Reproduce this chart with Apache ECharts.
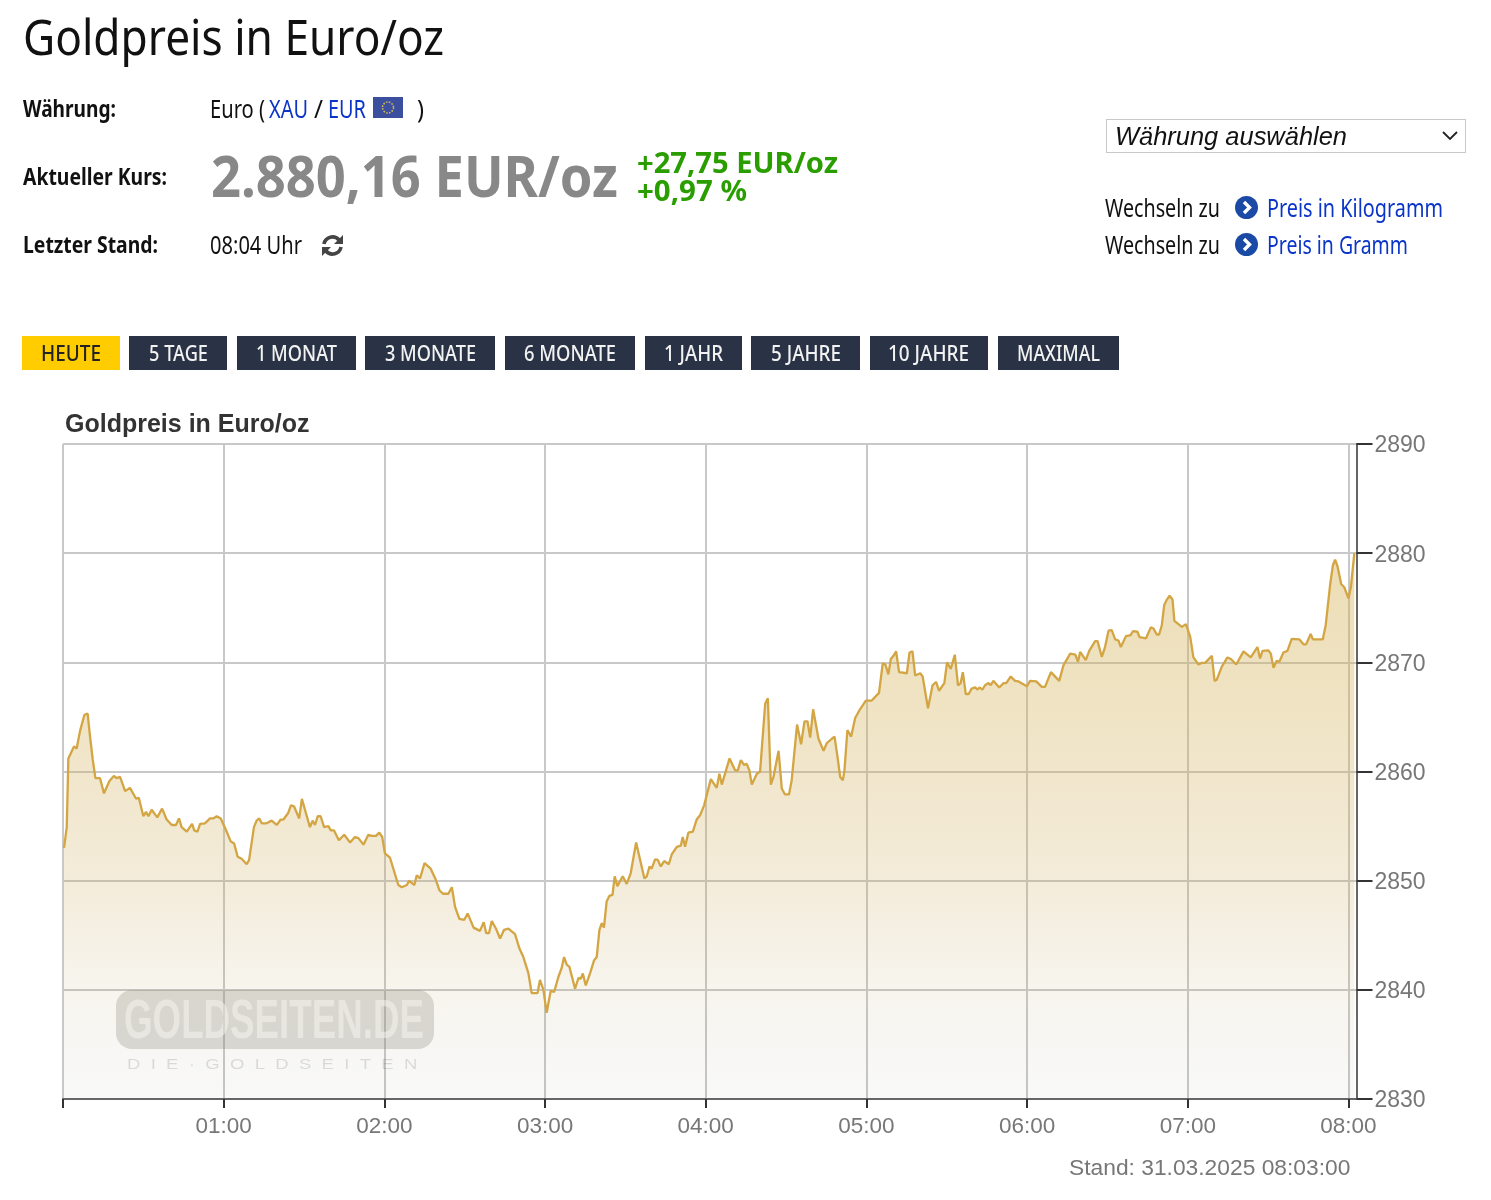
<!DOCTYPE html>
<html lang="de"><head><meta charset="utf-8"><title>Goldpreis in Euro/oz</title>
<script src="https://cdn.jsdelivr.net/npm/echarts@6/dist/echarts.min.js"></script>
<style>
html,body{margin:0;padding:0;background:#fff}
#page{position:relative;width:1491px;height:1200px;overflow:hidden}
#chart{position:absolute;left:0;top:0;width:1491px;height:1200px}
.t{position:absolute;white-space:nowrap;transform-origin:left center;font-family:"Noto Sans",sans-serif;line-height:1;color:#111;z-index:2}
.b{font-weight:700}.blue{color:#0a35c8}
.box{position:absolute;z-index:1}
svg{position:absolute;z-index:2}
</style></head><body><div id="page"><div id="chart"></div>
<div class="box" style="left:1106px;top:119px;width:358px;height:32px;border:1.5px solid #c8c8c8"></div>
<svg style="left:1441px;top:130px" width="18" height="12" viewBox="0 0 18 12"><path d="M2 2 L9 9 L16 2" fill="none" stroke="#222" stroke-width="1.8"/></svg>
<svg style="left:373px;top:97px" width="30" height="21" viewBox="0 0 30 21"><rect width="30" height="21" fill="#3b4f9e"/><circle cx="15" cy="10.5" r="5.5" fill="none" stroke="#c9b75a" stroke-width="1.6" stroke-dasharray="1.6 1.3"/></svg>
<svg style="left:320px;top:233px" width="25" height="25" viewBox="0 0 25 25"><path d="M4 11 A8.6 8.6 0 0 1 19 7" fill="none" stroke="#444" stroke-width="3.6"/><path d="M23 2 V11 H14 Z" fill="#444"/><path d="M21 14 A8.6 8.6 0 0 1 6 18" fill="none" stroke="#444" stroke-width="3.6"/><path d="M2 23 V14 H11 Z" fill="#444"/></svg>
<svg style="left:1235px;top:196px" width="23" height="23" viewBox="0 0 23 23"><circle cx="11.5" cy="11.5" r="11.5" fill="#1a4aa6"/><path d="M9 6 L14.5 11.5 L9 17" fill="none" stroke="#fff" stroke-width="3.4"/></svg>
<svg style="left:1235px;top:233px" width="23" height="23" viewBox="0 0 23 23"><circle cx="11.5" cy="11.5" r="11.5" fill="#1a4aa6"/><path d="M9 6 L14.5 11.5 L9 17" fill="none" stroke="#fff" stroke-width="3.4"/></svg>
</div>
<script>
const minutes=[0.4,1.4,2,2.6,4.1,5.1,6.35,7,8,9.2,10.1,11.1,12.1,13.8,15.3,17.3,19,20,21.3,23.2,25,27.3,28.3,30,31,31.9,33.1,35.2,37,38.7,40.6,42.2,43.3,44.3,46.2,48.2,49,50.2,51.2,53,54.9,56.1,57.4,58.9,61.1,62.6,63.9,65.2,66.7,68.6,69.5,71.3,72.3,73.3,74.2,76,77.9,79.8,81.3,82.3,84.1,85.1,86.3,88.2,89.2,90.7,92.2,93.2,94.1,95.1,96.2,97.5,99.1,100,101.2,103,105,107.2,109,110.3,112.2,114,115.3,116.9,118.1,119.2,120.2,122.1,125.2,126.5,128.4,129.2,131.2,132.1,133.3,135,137.3,139,140.6,142,143.9,145.2,146.4,148,149.8,151.1,153.3,155.7,157.1,158,159.1,160.1,161.7,163.2,164.7,166.3,168.8,170.4,171.9,173.8,175,177.2,178.1,179.4,180.6,181.3,182.1,183.4,185,186.2,187.1,188.1,189.1,191.2,192.5,193.3,194.1,195.2,196.8,198.3,199.3,200.3,201.2,202,203,204,205.2,206,207,209,210.5,212,214,217.1,218,219,219.8,221.1,222.1,223.2,224.5,226.2,227.3,228,229.2,230.7,231.4,232.3,233.5,235.2,236.6,237.9,239.4,240.1,241.9,244.1,245.1,246,248.9,251,252,253.1,254.3,255.3,256.3,257.2,259.1,260.3,261,262.2,263.2,264.3,265.3,267.2,268.4,269.6,271.1,272.1,274.1,275.6,276.9,278,279,280.1,282.1,284,285.2,287.1,288.1,289.2,290.2,291.2,291.8,292.9,294.3,295.8,297.6,299.8,302,304.7,306.1,307.1,308.2,309.1,310.1,311.1,312.2,315.1,316.1,317.2,318.2,320.1,321,323,324.7,326,327.1,329.1,330.1,331.5,333,334.2,335.2,336,337.1,338.2,339.3,340.6,341.5,342.2,343.3,344.3,345.6,346.4,347.4,349.6,351.2,352.2,353.9,355.5,356.8,357.4,359.9,361.1,363.4,365.5,366.7,368.9,372,373.6,376.1,378,379,379.8,381.9,383.2,385.4,386.3,387.9,389.1,390.4,391.6,392.9,394.1,395,396.9,397.5,398.7,399.5,401.2,402,404.4,406.2,407.2,408.4,409.3,410.3,411.2,412.2,413.2,414.3,415,417.8,419.3,420.9,422.1,424,425.2,426.5,429,430,430.8,432.7,434.8,436.1,438.1,440.8,443.5,446,447,447.9,450.1,451,452,453.2,454.2,455.7,457.2,458.8,461.7,463.2,464.2,465.9,466.7,470.4,471.5,473.2,474.2,475,475.9,477.3,478.4,480,480.9,482.2];
const prices=[2853,2854.9,2861.2,2861.3,2862.3,2862.1,2863.7,2863.6,2865.2,2865.3,2863.2,2861.1,2859.4,2859.4,2858,2859.1,2859.6,2859.4,2859.5,2858.2,2858.5,2857.5,2857.6,2855.9,2856.3,2855.9,2856.5,2855.8,2856.6,2855.6,2855.1,2855.1,2855.7,2854.9,2854.5,2855.2,2854.6,2854.5,2855.2,2855.25,2855.7,2855.7,2855.9,2855.7,2854.5,2853.6,2853.4,2852.2,2852,2851.5,2851.9,2854.9,2855.5,2855.7,2855.25,2855.25,2855.5,2855.1,2855.6,2855.6,2856.2,2856.9,2856.8,2855.7,2857.5,2856.2,2854.9,2855.5,2855.1,2855.9,2855.9,2854.9,2855,2854.6,2854.6,2853.7,2854.2,2853.5,2854,2853.9,2853.3,2854.2,2854.1,2854.1,2854.4,2854,2852.5,2852.1,2849.6,2849.4,2849.6,2850,2849.6,2850.5,2850.2,2851.6,2851.1,2850.2,2849.1,2848.8,2848.8,2849.4,2847.6,2846.5,2846.4,2847,2845.7,2845.4,2846.2,2845.2,2845.2,2846.3,2845.6,2844.7,2845.5,2845.6,2845.1,2843.8,2843,2841.5,2839.7,2839.7,2840.9,2840,2837.9,2837.9,2839.9,2839.8,2841.2,2842,2843,2842.3,2842.1,2840.1,2841.1,2841,2841.5,2840.4,2841.5,2842.7,2843,2845.5,2846.1,2845.7,2848.1,2848.6,2848.7,2850.4,2849.5,2850.4,2849.7,2850.7,2853.5,2850.2,2850.4,2851.3,2851.1,2851.95,2851.9,2851.3,2851.8,2851.5,2852.4,2852.3,2853.1,2853.2,2854,2853.1,2854.4,2854.5,2855.6,2856,2856.9,2857,2859.3,2858.5,2859.8,2858.8,2861.2,2860.1,2860.1,2861.05,2860.6,2860.7,2860.1,2858.8,2859.8,2860,2862.3,2866.2,2866.7,2858.8,2859.5,2861.9,2858.45,2857.9,2857.9,2859.2,2864.3,2862.5,2864.6,2864.6,2863.1,2865.7,2863,2861.9,2862.6,2863,2863.2,2861.35,2859.5,2859.2,2860.1,2863.8,2863.2,2864.9,2865.7,2866.5,2866.5,2867.2,2869.9,2869.8,2868.9,2870.3,2870.6,2871,2869.1,2869,2870.9,2871,2868.8,2869,2868.7,2865.8,2867.9,2868.2,2867.4,2868.1,2870,2869.4,2870.7,2867.9,2868.1,2869.1,2867.1,2867.1,2867.6,2867.7,2867.5,2867.7,2867.5,2867.9,2868.1,2867.9,2868.3,2867.7,2868.1,2868.1,2868.7,2868.3,2868.25,2868.2,2867.8,2868.3,2868.25,2867.75,2867.75,2869.1,2868.3,2869.75,2870.8,2870.7,2870.05,2870.95,2870.2,2871.05,2871.95,2871.95,2870.5,2871.4,2872.9,2872.95,2872.1,2872,2871.4,2872.4,2872.55,2872.5,2872.85,2872.8,2872.3,2872.2,2873.2,2873.1,2872.55,2872.55,2873.4,2875.25,2875.75,2876.1,2875.75,2873.8,2873.25,2873.5,2872.35,2870.45,2869.8,2869.95,2869.95,2870.6,2868.3,2868.4,2869.6,2870.45,2870.3,2869.8,2871,2870.45,2871.4,2870.35,2871.05,2871.1,2870.8,2869.5,2870.15,2870.05,2870.9,2871.05,2872.15,2872.1,2871.65,2871.65,2872.6,2872.1,2872.1,2873.4,2877.2,2878.9,2879.4,2878.8,2877.15,2876.9,2875.85,2876.9,2880];
const hourTicks=[0,60,120,180,240,300,360,420,480];
const buttonLabels=["HEUTE","5 TAGE","1 MONAT","3 MONATE","6 MONATE","1 JAHR","5 JAHRE","10 JAHRE","MAXIMAL"];

const page=document.getElementById('page');
function txt(s,x,w,cy,size,cls,style){
  const e=document.createElement('div');e.className='t '+(cls||'');e.textContent=s;
  e.style.cssText=`left:${x}px;top:${cy}px;font-size:${size}px;${style||''}`;
  page.appendChild(e);
  const s0=e.getBoundingClientRect().width;
  e.style.transform=`translateY(-50%) scaleX(${w/s0})`;
}
txt("Goldpreis in Euro/oz",23,421,36,49);
txt("Währung:",23,93,108,24,'b');
txt("Aktueller Kurs:",23,144,176,24,'b');
txt("Letzter Stand:",23,135,244,24,'b');
txt("Euro (",210,55,108,25);
txt("XAU",269,39,108,25,'blue');
txt("/",314,9,108,25);
txt("EUR",328,38,108,25,'blue');
txt(")",417,7,108,25);
txt("2.880,16 EUR/oz",211,407,175,58,'b','color:#888');
txt("+27,75 EUR/oz",637,201,161,29,'b','color:#2a9d00');
txt("+0,97 %",637,110,189,29,'b','color:#2a9d00');
txt("08:04 Uhr",210,92,244,25);
txt("Währung auswählen",1115,232,136,25,'','font-family:"Liberation Sans";font-style:italic');
txt("Wechseln zu",1105,115,207,25);
txt("Wechseln zu",1105,115,244,25);
txt("Preis in Kilogramm",1267,176,207,25,'blue');
txt("Preis in Gramm",1267,141,244,25,'blue');
const btnX=[22,129,237,365,505,645,751,870,998],btnR=[120,227,356,495,635,742,860,988,1119];
const lblX=[41,149,256,385,524,664,771,888,1017],lblW=[60,59,81,91,92,59,70,81,83];
buttonLabels.forEach((l,i)=>{
  const b=document.createElement('div');b.className='box';
  b.style.cssText=`left:${btnX[i]}px;top:336px;width:${btnR[i]-btnX[i]}px;height:34px;background:${i?'#2a3346':'#ffcc00'}`;
  page.appendChild(b);
  txt(l,lblX[i],lblW[i],352.5,21,'',(i?'color:#f2f2f2':'color:#222')+';font-weight:500');
});

const chart=echarts.init(document.getElementById('chart'),null,{renderer:'canvas'});
const pad=n=>String(n).padStart(2,'0');
const axisFont='"Liberation Sans",Arial,sans-serif';
chart.setOption({
  animation:false,backgroundColor:'#fff',
  title:[
    {text:'Goldpreis in Euro/oz',left:60,top:408,textStyle:{fontFamily:axisFont,fontSize:25,fontWeight:'bold',color:'#333'}},
    {text:'Stand: 31.03.2025 08:03:00',left:1064,top:1152,textStyle:{fontFamily:axisFont,fontSize:22.8,fontWeight:'normal',color:'#777'}}
  ],
  grid:{left:63,top:444,width:1293.5,height:655,containLabel:false},
  xAxis:{type:'value',min:0,max:483,
    axisLine:{show:true,onZero:false,lineStyle:{color:'#666',width:2}},
    axisTick:{show:true,length:9,customValues:hourTicks,lineStyle:{color:'#333',width:2}},
    axisLabel:{customValues:hourTicks.slice(1),margin:16,color:'#777',fontFamily:axisFont,fontSize:22.5,formatter:v=>pad(v/60)+':00'},
    splitLine:{show:true,lineStyle:{color:'#c8c8c8',width:2}}},
  yAxis:{type:'value',position:'right',min:2830,max:2890,interval:10,
    axisLine:{show:true,onZero:false,lineStyle:{color:'#666',width:2}},
    axisTick:{show:true,length:16,lineStyle:{color:'#333',width:2}},
    axisLabel:{margin:18,color:'#777',fontFamily:axisFont,fontSize:23,formatter:v=>'{v|'+v+'}',
      rich:{v:{padding:[4,0,0,0],color:'#777',fontFamily:axisFont,fontSize:23}}},
    splitLine:{show:true,lineStyle:{color:'#c8c8c8',width:2}}},
  graphic:[
    {type:'rect',shape:{x:116,y:990,width:318,height:59,r:16},z:1,style:{fill:'rgba(130,130,120,0.28)'}},
    {type:'text',x:124,y:995,scaleX:0.656,z:2,style:{text:'GOLDSEITEN.DE',fontFamily:axisFont,fontWeight:'bold',fontSize:56,fill:'rgba(255,255,255,0.5)'}},
    {type:'text',x:127,y:1057,scaleX:1.235,z:2,style:{text:'D  I  E  ·  G  O  L  D  S  E  I  T  E  N',fontFamily:axisFont,fontSize:15,fill:'rgba(0,0,0,0.13)'}}
  ],
  series:[{type:'line',data:minutes.map((m,i)=>[m,prices[i]]),showSymbol:false,symbol:'none',smooth:false,
    lineStyle:{color:'#d3a543',width:2.3},
    areaStyle:{origin:'start',color:new echarts.graphic.LinearGradient(0,0,0,1,[{offset:0,color:'rgba(212,175,80,0.6)'},{offset:0.3,color:'rgba(212,178,90,0.5)'},{offset:0.6,color:'rgba(205,170,90,0.32)'},{offset:0.8,color:'rgba(190,165,100,0.16)'},{offset:1,color:'rgba(120,120,110,0.06)'}])}}]
});
</script></body></html>
